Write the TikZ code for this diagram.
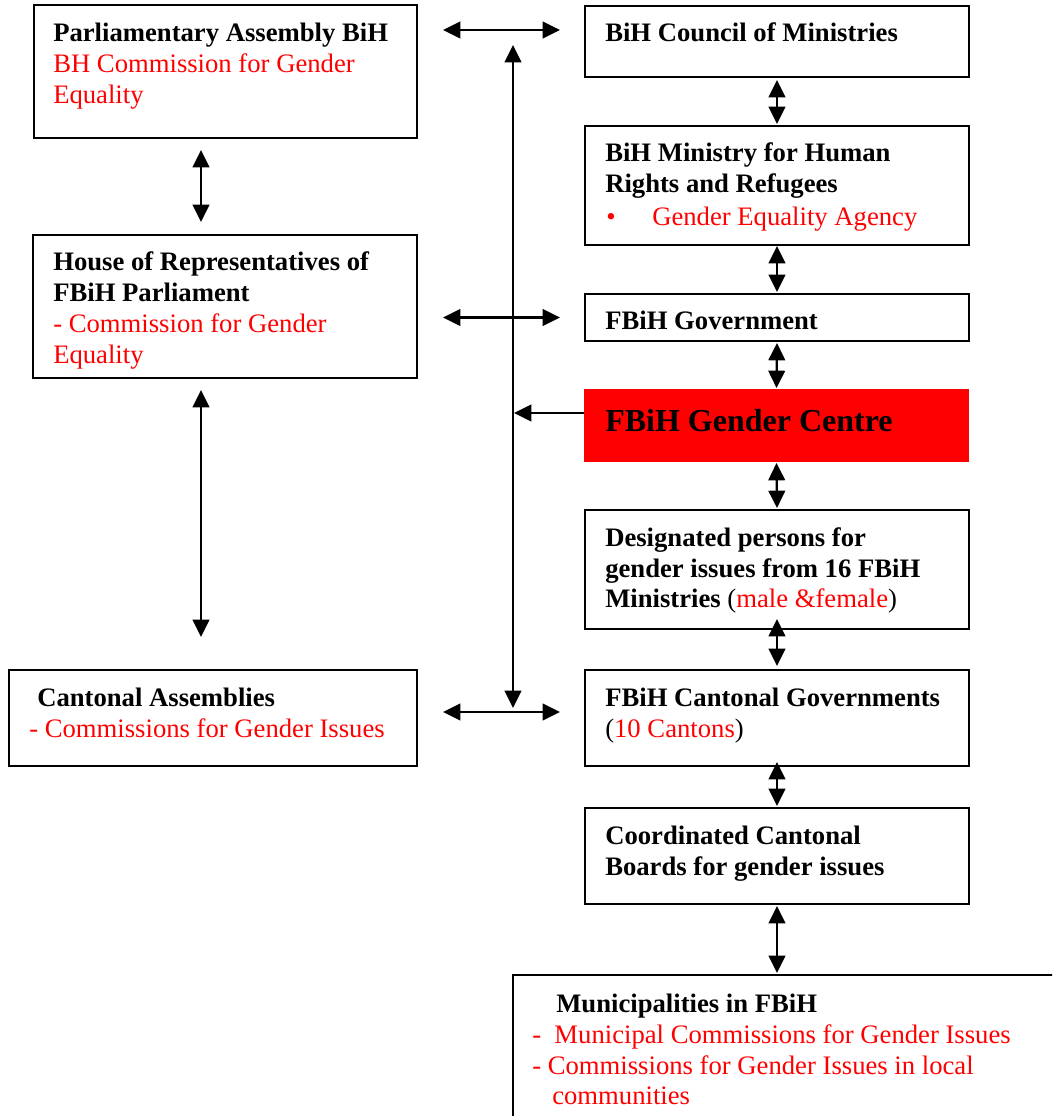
\documentclass[tikz,border=0pt]{standalone}
\usepackage{fontspec}
\setmainfont{Liberation Serif}
\usetikzlibrary{arrows.meta,fit,calc}
\tikzset{
  box/.style={draw, line width=1.5pt, inner sep=0pt, outer sep=0pt},
  hd/.style={anchor=base west, inner sep=0pt, font=\bfseries\fontsize{20}{24}\selectfont},
  rd/.style={anchor=base west, inner sep=0pt, text=red, font=\fontsize{20}{24}\selectfont},
  tip/.tip={Triangle[length=13pt,width=12.5pt]},
  dar/.style={tip-tip, line width=1.6pt},
  sar/.style={-tip, line width=1.6pt},
}
\begin{document}
\begin{tikzpicture}[x=0.75pt,y=-0.75pt]
\useasboundingbox (0,0) rectangle (1052,1116);
\clip (0,0) rectangle (1052,1116);
\fill[white] (0,0) rectangle (1052,1116);

% boxes
\node[box, fit={(34,5) (417,138)}] (pa) {};
\node[box, fit={(33,235) (417,378)}] (house) {};
\node[box, fit={(9,670) (417,766)}] (cass) {};
\node[box, fit={(585,6) (969,77)}] (council) {};
\node[box, fit={(585,126) (969,245)}] (ministry) {};
\node[box, fit={(585,294) (969,341)}] (gov) {};
\node[fill=red, inner sep=0pt, outer sep=0pt, fit={(584,389) (969,462)}] (centre) {};
\node[box, fit={(585,510) (969,629)}] (desig) {};
\node[box, fit={(585,670) (969,766)}] (cgov) {};
\node[box, fit={(585,808) (969,904)}] (coord) {};
\node[box, fit={(513,975) (1075,1135)}] (muni) {};

% texts
\node[hd] (pa1) at (53,42) {Parliamentary Assembly BiH};
\node[rd] (pa2) at (53,73) {BH Commission for Gender};
\node[rd] (pa3) at (53,104) {Equality};

\node[hd] (co1) at (605,42) {BiH Council of Ministries};

\node[hd] (mi1) at (605,162) {BiH Ministry for Human};
\node[hd] (mi2) at (605,193) {Rights and Refugees};
\node[rd] (mi3) at (606,226) {•};
\node[rd] (mi4) at (652,226) {Gender Equality Agency};

\node[hd] (ho1) at (53,270) {House of Representatives of};
\node[hd] (ho2) at (53,301) {FBiH Parliament};
\node[rd] (ho3) at (53,332) {- Commission for Gender};
\node[rd] (ho4) at (53,363) {Equality};

\node[hd] (go1) at (605,329) {FBiH Government};

\node[anchor=base west, inner sep=0pt, font=\bfseries\fontsize{24}{28}\selectfont] (ce1) at (605,431) {FBiH Gender Centre};

\node[hd] (de1) at (605,546) {Designated persons for};
\node[hd] (de2) at (605,577) {gender issues from 16 FBiH};
\node[hd] (de3) at (605,607) {Ministries \mdseries(\textcolor{red}{male \&female})};

\node[hd] (ca1) at (37,706) {Cantonal Assemblies};
\node[rd] (ca2) at (29,737) {- Commissions for Gender Issues};

\node[hd] (cg1) at (605,706) {FBiH Cantonal Governments};
\node[rd, text=black] (cg2) at (605,737) {(\textcolor{red}{10 Cantons})};

\node[hd] (cb1) at (605,844) {Coordinated Cantonal};
\node[hd] (cb2) at (605,875) {Boards for gender issues};

\node[hd] (mu1) at (556,1012) {Municipalities in FBiH};
\node[rd] (mu2) at (532,1043) {-\ \ Municipal Commissions for Gender Issues};
\node[rd] (mu3) at (532,1074) {- Commissions for Gender Issues in local};
\node[rd] (mu4) at (552,1104) {communities};

% horizontal double arrows
\draw[dar] ($(pa.north east)+(26,25)$) -- ($(council.north west)+(-25,24)$);
\draw[dar] ($(house.east|-gov.west)+(26,0)$) -- ($(gov.west)+(-25,0)$);
\draw[dar] ($(cass.east)+(26,-6)$) -- ($(cgov.west)+(-25,-6)$);

% long vertical line
\draw[dar] ($(council.north west)+(-72,39)$) -- ($(cgov.north west)+(-72,38)$);
\draw[sar] ($(centre.west)+(0,-12.5)$) -- ($(centre.west)+(-70,-12.5)$);

% left column
\draw[dar] ($(pa.south west)+(167,12)$) -- ($(house.north west)+(168,-13)$);
\draw[dar] ($(house.south west)+(168,12)$) -- ($(cass.north west)+(192,-33)$);

% right column
\draw[dar] ($(council.south)+(0,3)$) -- ($(ministry.north)+(0,-2)$);
\draw[dar] ($(ministry.south)+(0,1)$) -- ($(gov.north)+(0,-2)$);
\draw[dar] ($(gov.south)+(0,2)$) -- ($(centre.north)+(0,-1)$);
\draw[dar] ($(centre.south)+(0,1)$) -- ($(desig.north)+(0,-2)$);
\draw[dar] ($(desig.south)+(0,-10)$) -- ($(cgov.north)+(0,-4)$);
\draw[dar] ($(cgov.south)+(0,-4)$) -- ($(coord.north)+(0,-2)$);
\draw[dar] ($(coord.south)+(0,2)$) -- ($(muni.north west)+(264,-2)$);
\end{tikzpicture}
\end{document}
